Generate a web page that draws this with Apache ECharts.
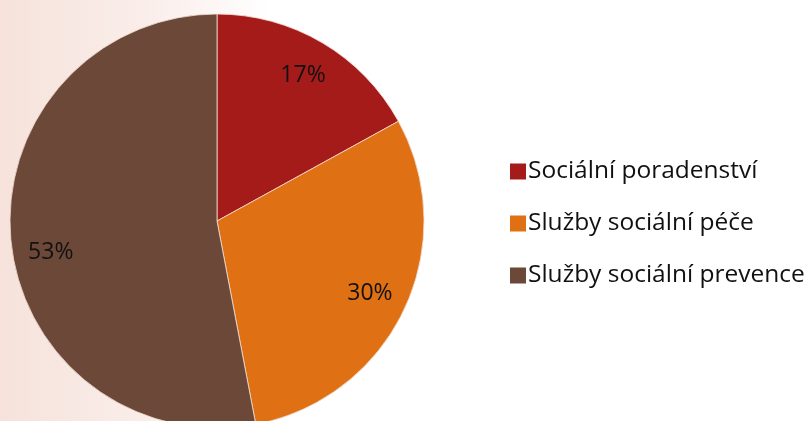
<!DOCTYPE html>
<html>
<head>
<meta charset="utf-8">
<script src="https://cdn.jsdelivr.net/npm/echarts@6/dist/echarts.min.js"></script>
<style>
  html, body { margin: 0; padding: 0; background: #fff; }
  #chart {
    width: 809px; height: 421px;
    background: linear-gradient(to right, #f6e2db 0px, #faeeea 150px, #fdf9f8 230px, #ffffff 270px);
  }
</style>
</head>
<body>
<div id="chart"></div>
<script>
// podíl druhů sociálních služeb
const categories = ['Sociální poradenství', 'Služby sociální péče', 'Služby sociální prevence']
const shares = [17, 30, 53]
const colors = ['#a51b1a', '#df7014', '#6c4838']

const pieData = categories.map((name, i) => ({
  name: name,
  value: shares[i],
  itemStyle: { color: colors[i] }
}))

const chart = echarts.init(document.getElementById('chart'))

const labelFont = { fontFamily: 'Open Sans', fontSize: 23, color: '#111' }

const option = {
  animation: false,
  legend: {
    orient: 'vertical',
    left: 505,
    top: 154,
    icon: 'rect',
    itemWidth: 16,
    itemHeight: 16,
    itemGap: 27,
    itemStyle: { borderWidth: 0 },
    textStyle: Object.assign({}, labelFont, { fontSize: 24.5, padding: [0, 0, 0, -3] }),
    data: categories
  },
  series: [
    {
      // plný koláč
      name: 'base',
      type: 'pie',
      center: [217, 221],
      radius: [0, 207],
      startAngle: 90,
      clockwise: true,
      label: { show: false },
      labelLine: { show: false },
      itemStyle: { borderColor: '#f3ded6', borderWidth: 0.8 },
      emphasis: { disabled: true },
      data: pieData
    },
    {
      // jen popisky, průhledný prstenec
      name: 'labels',
      type: 'pie',
      center: [217, 221],
      radius: [125, 207],
      startAngle: 90,
      clockwise: true,
      silent: true,
      itemStyle: { color: 'rgba(0,0,0,0)', borderWidth: 0 },
      label: Object.assign({
        show: true,
        position: 'inside',
        formatter: p => p.value + '%'
      }, labelFont),
      labelLine: { show: false },
      emphasis: { disabled: true },
      data: categories.map((name, i) => ({
        name: name,
        value: shares[i],
        // největší výseč má popisek posunutý níž, jako v originále
        label: i === 2 ? { offset: [2, 16] } : {}
      }))
    }
  ]
}

chart.setOption(option)
</script>
</body>
</html>
